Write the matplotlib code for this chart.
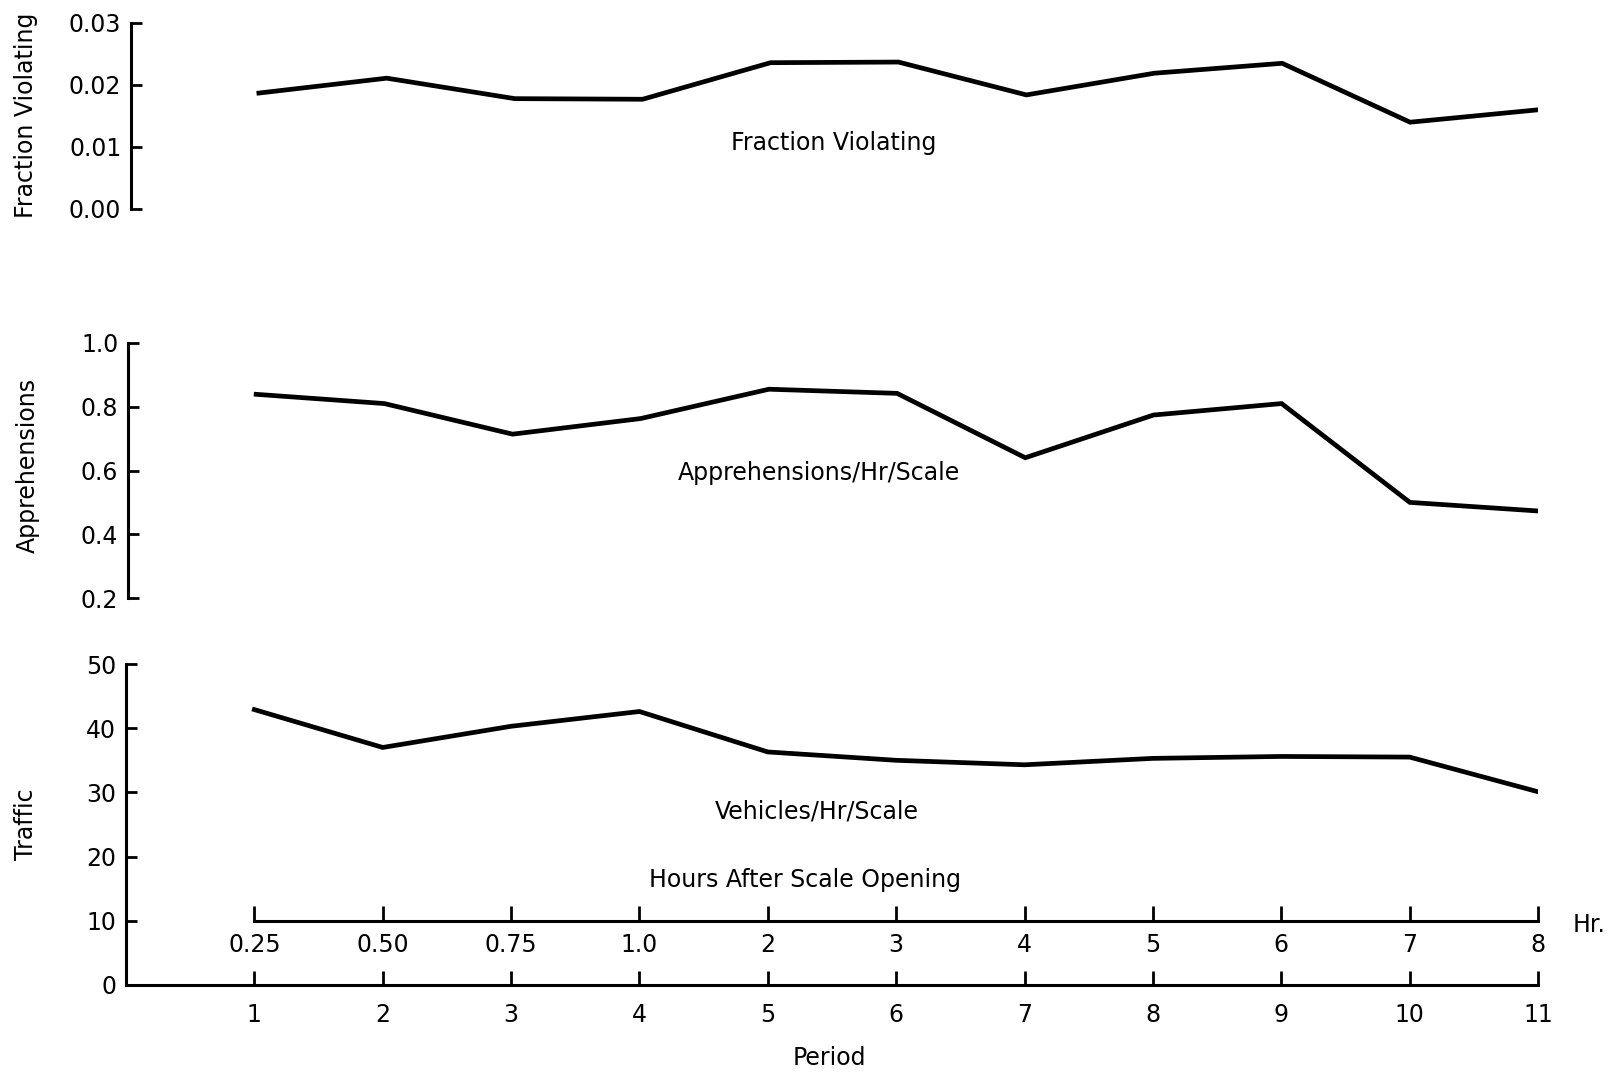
import numpy as np
import matplotlib.pyplot as plt

plt.rcParams['font.family'] = ['DejaVu Sans']

periods = np.arange(1, 12)
period_labels = [str(p) for p in periods]
hour_labels = ['0.25', '0.50', '0.75', '1.0', '2', '3', '4', '5', '6', '7', '8']

fraction_violating = [0.0187, 0.0211, 0.0178, 0.0177, 0.0236, 0.0237,
                      0.0184, 0.0219, 0.0235, 0.0140, 0.0160]
apprehensions = [0.839, 0.810, 0.714, 0.763, 0.855, 0.842,
                 0.640, 0.774, 0.810, 0.500, 0.473]
traffic = [42.9, 37.0, 40.3, 42.6, 36.3, 35.0, 34.3, 35.3, 35.6, 35.5, 30.1]

W, H = 1615, 1073
fs = 17
fig = plt.figure(figsize=(W / 100, H / 100), dpi=100)


def px_axes(left, top, right, bottom):
    return fig.add_axes([left / W, 1 - bottom / H, (right - left) / W, (bottom - top) / H])


def style(ax, yticks, ylabels):
    for s in ['top', 'right', 'bottom']:
        ax.spines[s].set_visible(False)
    ax.spines['left'].set_linewidth(2.2)
    ax.set_yticks(yticks)
    ax.set_yticklabels(ylabels, fontsize=fs)
    ax.tick_params(axis='y', direction='in', length=8, width=2, pad=7)
    ax.set_xticks([])
    ax.set_xlim(0, 11)


lw = 3.4

# top panel
ax1 = px_axes(131, 23, 1538, 209)
ax1.plot(periods, fraction_violating, color='black', lw=lw, solid_joinstyle='miter')
ax1.set_ylim(0, 0.03)
style(ax1, [0, 0.01, 0.02, 0.03], ['0.00', '0.01', '0.02', '0.03'])
ax1.text(5.49, 0.0107, 'Fraction Violating', fontsize=fs, ha='center', va='center')
fig.text(26 / W, 1 - 115 / H, 'Fraction Violating', rotation=90, fontsize=fs,
         ha='center', va='center')

# middle panel
ax2 = px_axes(128, 343, 1538, 598)
ax2.plot(periods, apprehensions, color='black', lw=lw, solid_joinstyle='miter')
ax2.set_ylim(0.2, 1.0)
style(ax2, [0.2, 0.4, 0.6, 0.8, 1.0], ['0.2', '0.4', '0.6', '0.8', '1.0'])
ax2.text(5.39, 0.593, 'Apprehensions/Hr/Scale', fontsize=fs, ha='center', va='center')
fig.text(28 / W, 1 - 465 / H, 'Apprehensions', rotation=90, fontsize=fs,
         ha='center', va='center')

# bottom panel
ax3 = px_axes(126, 664, 1538, 985)
ax3.plot(periods, traffic, color='black', lw=lw, solid_joinstyle='miter')
ax3.set_ylim(0, 50)
style(ax3, [0, 10, 20, 30, 40, 50], ['0', '10', '20', '30', '40', '50'])
ax3.spines['bottom'].set_visible(True)
ax3.spines['bottom'].set_linewidth(2.2)
ax3.set_xticks(periods)
ax3.set_xticklabels(period_labels, fontsize=fs)
ax3.tick_params(axis='x', direction='in', length=10, width=2, pad=13)
ax3.text(5.38, 27.1, 'Vehicles/Hr/Scale', fontsize=fs, ha='center', va='center')
ax3.text(5.29, 16.3, 'Hours After Scale Opening', fontsize=fs, ha='center', va='center')
fig.text(26 / W, 1 - 824 / H, 'Traffic', rotation=90, fontsize=fs,
         ha='center', va='center')

# hours axis
ax4 = px_axes(126, 900, 1538, 921)
ax4.patch.set_alpha(0)
for s in ['top', 'right', 'left']:
    ax4.spines[s].set_visible(False)
ax4.spines['bottom'].set_linewidth(2.2)
ax4.spines['bottom'].set_bounds(1, 11)
ax4.set_xlim(0, 11)
ax4.set_yticks([])
ax4.set_xticks(periods)
ax4.set_xticklabels(hour_labels, fontsize=fs)
ax4.tick_params(axis='x', direction='in', length=11, width=2, pad=9)

fig.text(1589 / W, 1 - 925 / H, 'Hr.', fontsize=fs, ha='center', va='center')
fig.text(829 / W, 1 - 1058 / H, 'Period', fontsize=fs, ha='center', va='center')

fig.savefig('out.png', dpi=100)
